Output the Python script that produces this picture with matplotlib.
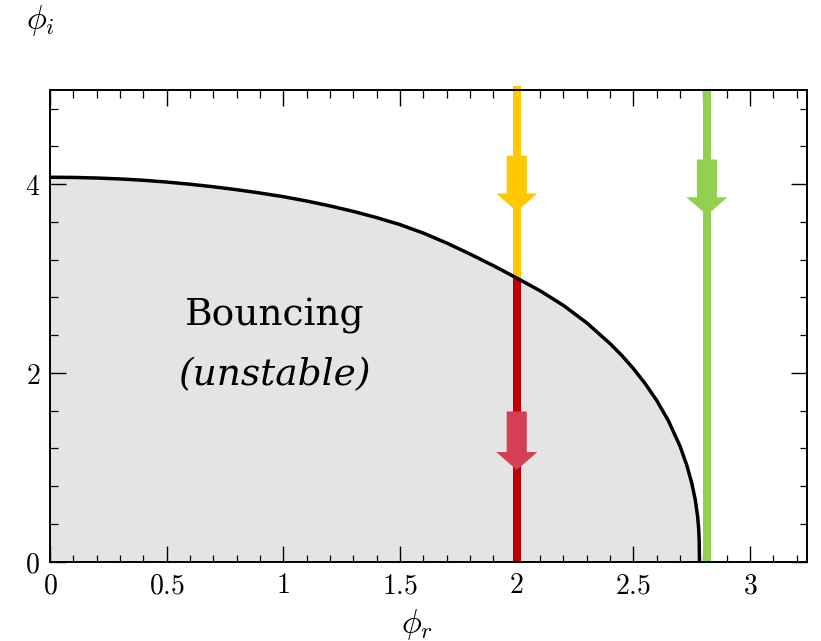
import matplotlib
matplotlib.use("Agg")
import matplotlib.pyplot as plt
from matplotlib.ticker import MultipleLocator, FuncFormatter
from matplotlib.patches import FancyArrow

plt.rcParams['mathtext.fontset'] = 'cm'

# Boundary of the bouncing (unstable) region in the (phi_r, phi_i) plane
phi_r_boundary = [0.0, 0.1, 0.2, 0.3, 0.4, 0.5, 0.6, 0.7, 0.8, 0.9, 1.0, 1.1, 1.2,
                  1.3, 1.4, 1.5, 1.6, 1.7, 1.8, 1.9, 2.0, 2.1, 2.2, 2.3, 2.4, 2.45,
                  2.5, 2.55, 2.6, 2.65, 2.7, 2.73, 2.75, 2.765, 2.775, 2.78, 2.782, 2.783]
phi_i_boundary = [4.072, 4.070, 4.064, 4.054, 4.040, 4.021, 3.998, 3.971, 3.940, 3.905,
                  3.866, 3.820, 3.768, 3.710, 3.644, 3.570, 3.480, 3.375, 3.258, 3.135,
                  3.004, 2.869, 2.714, 2.529, 2.309, 2.184, 2.044, 1.886, 1.706, 1.491,
                  1.221, 1.010, 0.830, 0.655, 0.480, 0.335, 0.200, 0.0]

# Vertical trajectories (constant phi_r)
traj_x = [2.0, 2.815]
traj_split = 3.0          # where the phi_r = 2 trajectory enters the region
y_top, y_bottom = 5.0, 0.0

# Arrows: x, top of shaft, tip
arrow_x = [2.0, 2.0, 2.815]
arrow_top = [4.30, 1.59, 4.26]
arrow_tip = [3.71, 0.97, 3.67]
arrow_colors = ['#FFC800', '#D43F55', '#92D050']

yellow, red, green = '#FFC800', '#C00000', '#92D050'

fig = plt.figure(figsize=(8.21, 6.41), dpi=100)
ax = fig.add_axes([0.0609, 0.124, 0.9224, 0.7361])

ax.fill_between(phi_r_boundary, 0, phi_i_boundary, color='#E4E4E4', lw=0, zorder=1)
ax.plot(phi_r_boundary, phi_i_boundary, color='black', lw=2.5, zorder=4,
        solid_capstyle='butt', solid_joinstyle='round')

lw_traj = 5.8
ax.plot([traj_x[0], traj_x[0]], [y_top + 0.035, traj_split], color=yellow, lw=lw_traj,
        solid_capstyle='butt', clip_on=False, zorder=3)
ax.plot([traj_x[0], traj_x[0]], [traj_split, y_bottom - 0.02], color=red, lw=lw_traj,
        solid_capstyle='butt', clip_on=False, zorder=3)
ax.plot([traj_x[1], traj_x[1]], [y_top + 0.01, y_bottom], color=green, lw=lw_traj,
        solid_capstyle='butt', clip_on=False, zorder=3)

for xa, yt, ytip, c in zip(arrow_x, arrow_top, arrow_tip, arrow_colors):
    ar = FancyArrow(xa, yt, 0, ytip - yt, width=0.086, head_width=0.176,
                    head_length=0.19, length_includes_head=True,
                    color=c, lw=0, zorder=5)
    ax.add_patch(ar)

ax.text(0.964, 2.60, 'Bouncing', fontsize=27, family='DejaVu Serif',
        ha='center', va='center', zorder=6)
ax.text(0.964, 1.97, '(unstable)', fontsize=27, family='DejaVu Serif', style='italic',
        ha='center', va='center', zorder=6)

ax.set_xlim(0, 3.245)
ax.set_ylim(0, 5)
ax.xaxis.set_major_locator(MultipleLocator(0.5))
ax.xaxis.set_minor_locator(MultipleLocator(0.1))
ax.yaxis.set_major_locator(MultipleLocator(2))
ax.yaxis.set_minor_locator(MultipleLocator(0.4))


def fmt(v, pos):
    s = f'{v:g}'
    return f'${s}$'


ax.xaxis.set_major_formatter(FuncFormatter(fmt))
ax.yaxis.set_major_formatter(FuncFormatter(fmt))

ax.tick_params(which='both', direction='in', top=True, right=True, labelsize=20,
               color='black')
ax.tick_params(which='major', length=11.5, width=1.0, pad=7)
ax.tick_params(which='minor', length=5.4, width=0.9)
for s in ax.spines.values():
    s.set_linewidth(1.4)
    s.set_zorder(7)

fig.text(40 / 821, 1 - 20 / 641, r'$\phi_i$', fontsize=24, ha='center', va='center')
fig.text(417 / 821, 1 - 625 / 641, r'$\phi_r$', fontsize=24, ha='center', va='center')

fig.savefig('out.png', dpi=100)
